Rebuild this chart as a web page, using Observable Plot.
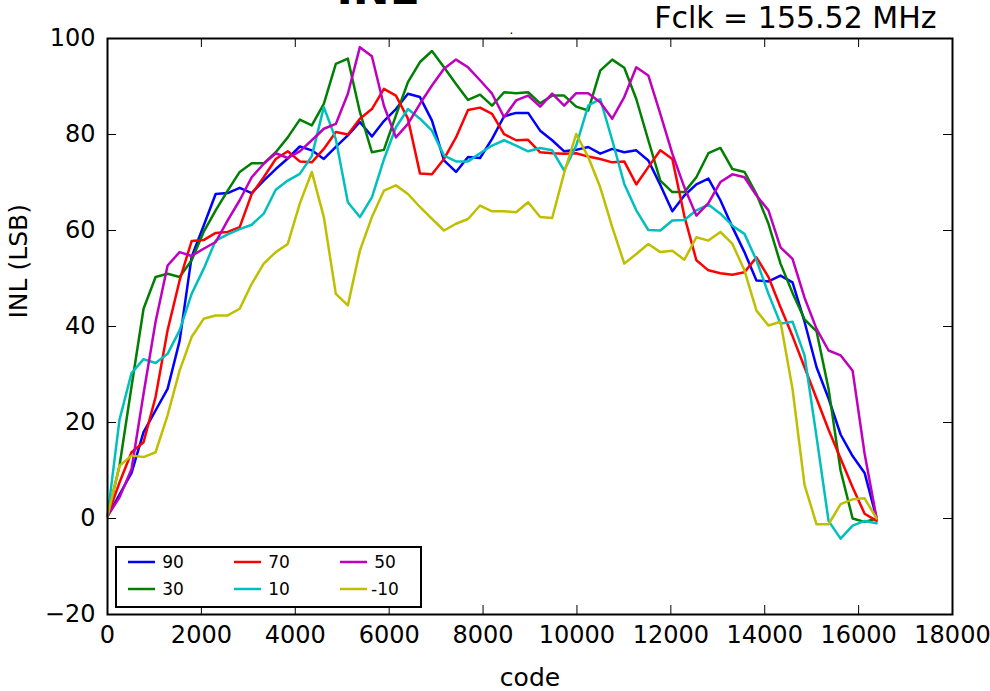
<!DOCTYPE html>
<html>
<head>
<meta charset="utf-8">
<script src="https://cdn.jsdelivr.net/npm/d3@7"></script>
<script src="https://cdn.jsdelivr.net/npm/@observablehq/plot@0.6"></script>
<style>
  html, body { margin: 0; padding: 0; background: #fff; }
  #chart { width: 990px; height: 691px; overflow: hidden; }
</style>
</head>
<body>
<div id="chart"></div>
<script>
// ---- data ----
const codes = d3.range(0, 16385, 256); // 65 sample codes, 0..16384
const seriesNames = ["90", "30", "70", "10", "50", "-10"];
const seriesColors = ["#0000ff", "#008000", "#ff0000", "#00bfbf", "#bf00bf", "#bfbf00"];

const inl90 = [0.5,5,9.5,18,22.5,27,37,54.5,61,67.6,67.8,68.9,67.8,70.4,72.8,75,77.5,76.7,74.9,77.4,79.8,82.6,79.6,82.8,85.3,88.5,87.8,82.9,74.6,72.2,75.3,75.1,79.1,83.8,84.5,84.5,80.8,78.8,76.5,76.8,77.4,76,77,76.3,76.7,74.6,69.5,64,67.3,69.6,70.8,66.3,60.7,55.5,49.6,49.4,50.6,49.2,41,31.5,25,17.5,13,9.5,0];
const inl30 = [0.5,11,27.5,43.7,50.3,51,50.3,53.8,59.7,64.2,68.3,72.2,74,74,76.3,79.4,83.1,81.9,86.4,94.7,95.8,84.7,76.3,76.8,84,90.9,95.1,97.4,94,90.5,87.2,88.3,86,88.8,88.6,88.8,86.5,88.1,88.1,85.8,85,93.3,95.6,93.9,87.4,78.8,70.4,68,68,71.1,76.1,77.2,72.8,72.2,67.6,61.4,53.1,47,41.5,39,27,10,0,-0.7,0];
const inl70 = [0.5,7.5,13.8,15.9,25.3,39.2,49.6,57.8,58,59.5,59.7,60.7,67.6,71.1,74.9,76.5,74.4,74.2,77,80.5,80,83.3,85.3,89.5,88.1,83.3,71.9,71.7,74.9,79.4,85.1,85.6,84.3,80.1,78.8,78.9,76.3,76.1,76,76.1,75.4,74.9,74.2,74.4,69.6,73.2,76.7,74.9,63,53.8,51.7,51.1,50.8,51.3,54.4,50.3,44,38,31.5,25,18.5,12.5,6.5,1,-0.5];
const inl10 = [0.5,20.6,30.3,33.2,32.4,34.3,39.2,46.8,52,57.9,59.2,60.3,61.2,63.5,68.5,70.4,71.8,75.5,85.7,79,65.9,62.8,66.9,74.8,81.5,85.3,83.3,80.8,75.6,74.4,74.4,76.1,77.7,78.8,77.7,76.5,77.2,76.7,72.5,77.7,86,87.4,78.8,69.7,64.2,60.1,60,62.1,62.2,64.2,65.4,63.5,61,59.3,53.8,46.8,40.6,41,34,17,-0.5,-4.2,-1.5,-0.5,-1];
const inl50 = [0.5,4.4,10.3,26,41,52.7,55.5,54.7,56.2,57.6,62.1,66.3,71.1,73.9,76.1,75.1,76.5,78.8,81.2,82.2,88.5,98.2,96.3,86,79.4,82.2,86.4,90.2,93.7,95.6,94,91.3,88.5,83.6,87.1,88.1,85.8,88.5,86,88.6,88.6,86.7,83.3,87.8,94,92.3,84.3,76,69,63.1,65.7,70.1,71.7,71.1,67.3,64.2,56.5,54.1,46,39.5,35,34,30.8,13.5,0];
const inlm10 = [0.5,11,13.1,12.8,13.8,21.5,30.8,37.8,41.6,42.3,42.3,43.7,48.9,53.1,55.5,57.2,65.6,72.2,62.8,46.8,44.4,55.8,62.8,68.3,69.4,67.6,64.9,62.4,60,61.4,62.4,65.2,64,64,63.8,65.9,62.8,62.6,72,80.1,75.3,69,60.7,53.1,55.1,57.2,55.5,55.8,53.9,58.6,57.9,59.7,57.2,51.7,43.3,40.2,41,27,7,-1.2,-1.2,3,4,4.2,0];

const xTicks = [0,2000,4000,6000,8000,10000,12000,14000,16000,18000];
const yTicks = [-20,0,20,40,60,80,100];
const titleText = "INL";
const subText = "Fclk = 155.52 MHz";
const xLabel = "code";
const yLabel = "INL (LSB)";

// ---- build table ----
const allSeries = [inl90, inl30, inl70, inl10, inl50, inlm10];
const rows = [];
allSeries.forEach((vals, s) => {
  vals.forEach((v, i) => rows.push({series: seriesNames[s], code: codes[i], inl: v}));
});

const W = 990, H = 691;
const mL = 107, mR = 38, mT = 38, mB = 77;
const plotW = W - mL - mR, plotH = H - mT - mB;
const tickLen = 9;
const fmtY = d => d < 0 ? "\u2212" + Math.abs(d) : String(d);

const chart = Plot.plot({
  width: W, height: H,
  marginLeft: mL, marginRight: mR, marginTop: mT, marginBottom: mB,
  style: {fontFamily: "DejaVu Sans", background: "#fff", color: "#000", overflow: "visible"},
  x: {domain: [0, 18000]},
  y: {domain: [-20, 100]},
  color: {domain: seriesNames, range: seriesColors},
  marks: [
    Plot.line(rows, {x: "code", y: "inl", z: "series", stroke: "series", strokeWidth: 2.5, strokeLinejoin: "round"}),
    // inward ticks on all four sides
    Plot.tickX(xTicks, {x: d => d, insetBottom: plotH - tickLen, stroke: "#000", strokeWidth: 1}),
    Plot.tickX(xTicks, {x: d => d, insetTop: plotH - tickLen, stroke: "#000", strokeWidth: 1}),
    Plot.tickY(yTicks, {y: d => d, insetRight: plotW - tickLen, stroke: "#000", strokeWidth: 1}),
    Plot.tickY(yTicks, {y: d => d, insetLeft: plotW - tickLen, stroke: "#000", strokeWidth: 1}),
    Plot.frame({stroke: "#000", strokeWidth: 2}),
    Plot.axisX(xTicks, {anchor: "bottom", tickSize: 0, tickPadding: 11, fontSize: 24, label: null, tickFormat: d => String(d)}),
    Plot.axisY(yTicks, {anchor: "left", tickSize: 0, tickPadding: 12, fontSize: 24, label: null, tickFormat: fmtY}),
    Plot.text([xLabel], {frameAnchor: "bottom", dy: 71, lineAnchor: "bottom", fontSize: 25, fill: "#000"}),
    Plot.text([yLabel], {frameAnchor: "left", dx: -89, dy: -8, rotate: -90, lineAnchor: "middle", fontSize: 25, fill: "#000"}),
    Plot.text([titleText], {frameAnchor: "top-left", dx: 336 - mL, dy: 3 - mT, lineAnchor: "bottom", textAnchor: "start", fontSize: 44, fontWeight: "bold", fill: "#000"}),
    Plot.text([subText], {frameAnchor: "top-right", dx: 936 - (W - mR), dy: 27 - mT, lineAnchor: "bottom", textAnchor: "end", fontSize: 30, fill: "#000"}),
    Plot.text(["."], {frameAnchor: "top-left", dx: 509 - mL, dy: 33 - mT, lineAnchor: "bottom", textAnchor: "start", fontSize: 12, fill: "#000"})
  ]
});

document.getElementById("chart").appendChild(chart);

// ---- legend (inside plot, lower left) ----
const svg = d3.select(chart);
const lg = svg.append("g").attr("font-family", "DejaVu Sans").attr("font-size", 17);
lg.append("rect").attr("x", 116).attr("y", 547).attr("width", 305).attr("height", 60)
  .attr("fill", "#fff").attr("stroke", "#000").attr("stroke-width", 2);
const colX = [128, 234, 340];
const rowY = [562, 589];
seriesNames.forEach((name, k) => {
  const c = Math.floor(k / 2), r = k % 2;
  lg.append("line").attr("x1", colX[c]).attr("x2", colX[c] + 27)
    .attr("y1", rowY[r]).attr("y2", rowY[r])
    .attr("stroke", seriesColors[k]).attr("stroke-width", 2.5);
  lg.append("text").attr("x", colX[c] + 45).attr("y", rowY[r]).attr("dy", "0.35em")
    .attr("fill", "#000").text(name);
});
</script>
</body>
</html>
